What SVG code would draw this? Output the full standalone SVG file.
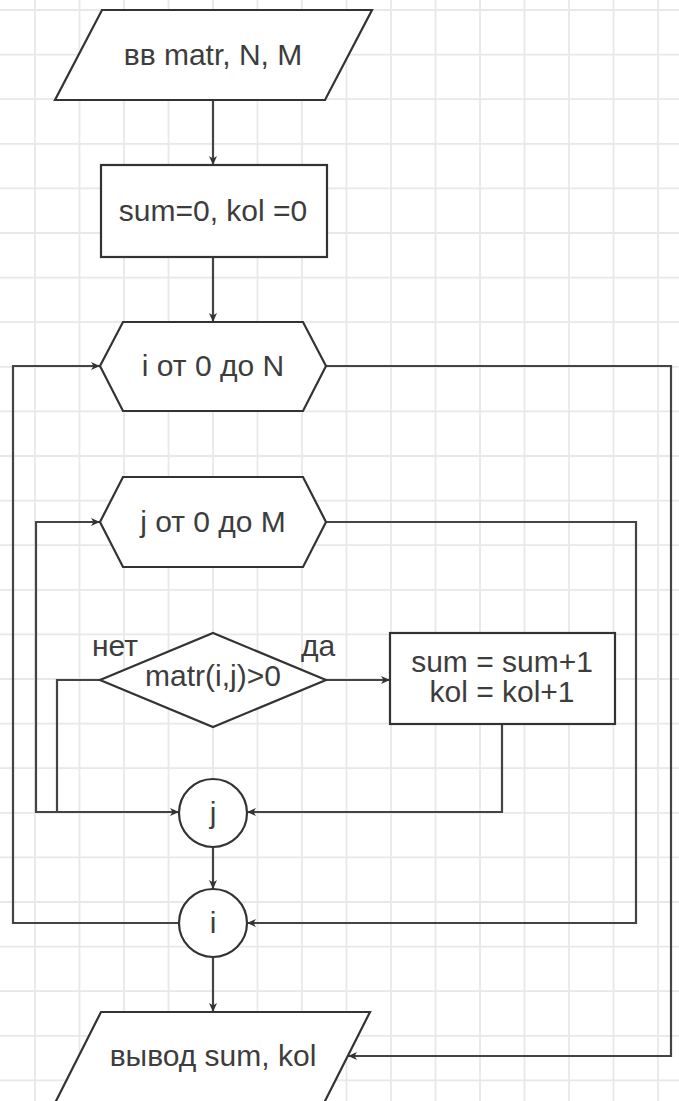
<svg xmlns="http://www.w3.org/2000/svg" width="679" height="1101" viewBox="0 0 679 1101">
<style>
.node{fill:#fff;stroke:#333;stroke-width:2.2;stroke-linejoin:miter}
.lbl{font-family:"Liberation Sans",Arial,sans-serif;font-size:30px;fill:#3d3d3d;text-anchor:middle}
.edge{fill:none;stroke:#444;stroke-width:2.2}
.grid{fill:none;stroke:#e8e8e8;stroke-width:1.8}
</style>
<defs>
<marker id="arr" markerUnits="userSpaceOnUse" markerWidth="10" markerHeight="8" refX="9" refY="4" orient="auto">
<path d="M0,0 L9,4 L0,8 L2.5,4 Z" fill="#333"/>
</marker>
</defs>
<rect width="679" height="1101" fill="#fff"/>
<path class="grid" d="M35,0V1101M79.5,0V1101M124,0V1101M168.5,0V1101M213,0V1101M257.5,0V1101M302,0V1101M346.5,0V1101M391,0V1101M435.5,0V1101M480,0V1101M524.5,0V1101M569,0V1101M613.5,0V1101M658,0V1101
M0,10H679M0,54.6H679M0,99.2H679M0,143.8H679M0,188.4H679M0,233H679M0,277.6H679M0,322.2H679M0,366.8H679M0,411.4H679M0,456H679M0,500.6H679M0,545.2H679M0,589.8H679M0,634.4H679M0,679H679M0,723.6H679M0,768.2H679M0,812.8H679M0,857.4H679M0,902H679M0,946.6H679M0,991.2H679M0,1035.8H679M0,1080.4H679"/>
<g id="connectors">
<path class="edge" d="M213,100V165" marker-end="url(#arr)"/>
<path class="edge" d="M213,257V322" marker-end="url(#arr)"/>
<path class="edge" d="M326,366H671V1056H348" marker-end="url(#arr)"/>
<path class="edge" d="M179,923H13V366H100" marker-end="url(#arr)"/>
<path class="edge" d="M326,522H636V923H247" marker-end="url(#arr)"/>
<path class="edge" d="M57,812H36V522H100" marker-end="url(#arr)"/>
<path class="edge" d="M100,680H57V812H179" marker-end="url(#arr)"/>
<path class="edge" d="M326,680H390" marker-end="url(#arr)"/>
<path class="edge" d="M502,724V812H247" marker-end="url(#arr)"/>
<path class="edge" d="M213,847V889" marker-end="url(#arr)"/>
<path class="edge" d="M213,957V1012" marker-end="url(#arr)"/>
</g>
<g id="input">
<polygon class="node" points="102,10 372,10 325,100 55,100"/>
<text class="lbl" x="213" y="65">вв matr, N, M</text>
</g>
<g id="init">
<rect class="node" x="101" y="165" width="226" height="92"/>
<text class="lbl" x="213" y="221">sum=0, kol =0</text>
</g>
<g id="loop-i">
<polygon class="node" points="100,366 123,322 303,322 326,366 303,411 123,411"/>
<text class="lbl" x="213" y="376">i от 0 до N</text>
</g>
<g id="loop-j">
<polygon class="node" points="100,522 123,477 303,477 326,522 303,567 123,567"/>
<text class="lbl" x="213" y="532">j от 0 до M</text>
</g>
<g id="cond">
<polygon class="node" points="100,680 213,633 326,680 213,727"/>
<text class="lbl" x="213" y="686">matr(i,j)&gt;0</text>
<text class="lbl" x="115" y="656">нет</text>
<text class="lbl" x="318" y="656">да</text>
</g>
<g id="update">
<rect class="node" x="390" y="633" width="225" height="91"/>
<text class="lbl" x="502" y="672">sum = sum+1</text>
<text class="lbl" x="502" y="702">kol = kol+1</text>
</g>
<g id="end-j">
<circle class="node" cx="213" cy="813" r="34"/>
<text class="lbl" x="213" y="823">j</text>
</g>
<g id="end-i">
<circle class="node" cx="213" cy="923" r="34"/>
<text class="lbl" x="213" y="933">i</text>
</g>
<g id="output">
<polygon class="node" points="101,1012 370,1012 323.5,1104 54.5,1104"/>
<text class="lbl" x="213" y="1066">вывод sum, kol</text>
</g>
</svg>
